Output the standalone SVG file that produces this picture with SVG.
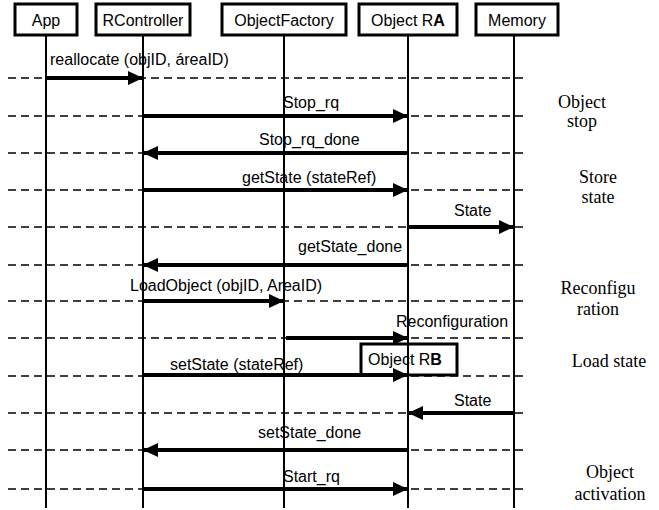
<svg xmlns="http://www.w3.org/2000/svg" width="659" height="510" viewBox="0 0 659 510">
<defs>
<marker id="ah" viewBox="0 0 15 14" refX="15" refY="7" markerWidth="15" markerHeight="14" markerUnits="userSpaceOnUse" orient="auto">
<path d="M0,0 L15,7 L0,14 Z" fill="#000"/>
</marker>
<style>
.box{fill:#fff;stroke:#000;stroke-width:3}
.life{stroke:#000;stroke-width:2}
.dash{stroke:#000;stroke-width:1.5;stroke-dasharray:8 5;fill:none}
.msg{stroke:#000;stroke-width:4;fill:none;marker-end:url(#ah)}
.ht{font-family:"Liberation Sans",Arial,sans-serif;font-size:16px;text-anchor:middle;fill:#000}
.mt{font-family:"Liberation Sans",Arial,sans-serif;font-size:16px;fill:#000}
.rt{font-family:"Liberation Serif","Times New Roman",serif;font-size:18px;text-anchor:middle;fill:#000}
</style>
</defs>
<rect width="659" height="510" fill="#fff"/>
<g id="dashes">
<line class="dash" x1="8" y1="78" x2="528" y2="78"/>
<line class="dash" x1="8" y1="116" x2="528" y2="116"/>
<line class="dash" x1="8" y1="153" x2="528" y2="153"/>
<line class="dash" x1="8" y1="190" x2="528" y2="190"/>
<line class="dash" x1="8" y1="227" x2="528" y2="227"/>
<line class="dash" x1="8" y1="265" x2="528" y2="265"/>
<line class="dash" x1="8" y1="301" x2="528" y2="301"/>
<line class="dash" x1="8" y1="338" x2="528" y2="338"/>
<line class="dash" x1="8" y1="376" x2="528" y2="376"/>
<line class="dash" x1="8" y1="413" x2="528" y2="413"/>
<line class="dash" x1="8" y1="450" x2="528" y2="450"/>
<line class="dash" x1="8" y1="489" x2="528" y2="489"/>
</g>
<g id="App">
<line class="life" x1="46" y1="35" x2="46" y2="508"/>
<rect class="box" x="15" y="4" width="62" height="31"/>
<text class="ht" x="46" y="26">App</text>
</g>
<g id="RController">
<line class="life" x1="143" y1="35" x2="143" y2="508"/>
<rect class="box" x="96" y="4" width="94" height="31"/>
<text class="ht" x="143" y="26">RController</text>
</g>
<g id="ObjectFactory">
<line class="life" x1="284" y1="35" x2="284" y2="508"/>
<rect class="box" x="222" y="4" width="124" height="31"/>
<text class="ht" x="284" y="26">ObjectFactory</text>
</g>
<g id="ObjectRA">
<line class="life" x1="408" y1="35" x2="408" y2="508"/>
<rect class="box" x="359" y="4" width="98" height="31"/>
<text class="ht" x="408" y="26">Object R<tspan font-weight="bold">A</tspan></text>
</g>
<g id="Memory">
<line class="life" x1="514" y1="35" x2="514" y2="508"/>
<rect class="box" x="476" y="4" width="82" height="31"/>
<text class="ht" x="517" y="26">Memory</text>
</g>
<g id="ObjectRB">
<rect x="361" y="344" width="96" height="31" fill="none" stroke="#000" stroke-width="3"/>
<text class="ht" x="405" y="365">Object R<tspan font-weight="bold">B</tspan></text>
</g>
<g id="connectors">
<line class="msg" x1="46" y1="78" x2="143" y2="78"/>
<line class="msg" x1="143" y1="116" x2="408" y2="116"/>
<line class="msg" x1="408" y1="153" x2="143" y2="153"/>
<line class="msg" x1="143" y1="190" x2="408" y2="190"/>
<line class="msg" x1="408" y1="227" x2="514" y2="227"/>
<line class="msg" x1="408" y1="265" x2="143" y2="265"/>
<line class="msg" x1="143" y1="301" x2="284" y2="301"/>
<line class="msg" x1="286" y1="338" x2="408" y2="338"/>
<line class="msg" x1="143" y1="375" x2="408" y2="375"/>
<line class="msg" x1="514" y1="413" x2="408" y2="413"/>
<line class="msg" x1="408" y1="450" x2="143" y2="450"/>
<line class="msg" x1="143" y1="489" x2="408" y2="489"/>
</g>
<g id="labels">
<text class="mt" x="50" y="65">reallocate (objID, áreaID)</text>
<text class="mt" x="283" y="108">Stop_rq</text>
<text class="mt" x="259" y="145">Stop_rq_done</text>
<text class="mt" x="242" y="183">getState (stateRef)</text>
<text class="mt" x="454" y="216">State</text>
<text class="mt" x="298" y="252">getState_done</text>
<text class="mt" x="130" y="291">LoadObject (objID, AreaID)</text>
<text class="mt" x="396" y="327">Reconfiguration</text>
<text class="mt" x="170" y="370">setState (stateRef)</text>
<text class="mt" x="454" y="406">State</text>
<text class="mt" x="258" y="438">setState_done</text>
<text class="mt" x="283" y="482">Start_rq</text>
</g>
<g id="phases">
<text class="rt" x="582" y="108">Object</text>
<text class="rt" x="582" y="127">stop</text>
<text class="rt" x="598" y="183">Store</text>
<text class="rt" x="598" y="203">state</text>
<text class="rt" x="598" y="294">Reconfigu</text>
<text class="rt" x="598" y="315">ration</text>
<text class="rt" x="609" y="367">Load state</text>
<text class="rt" x="610" y="478">Object</text>
<text class="rt" x="610" y="500">activation</text>
</g>
</svg>
